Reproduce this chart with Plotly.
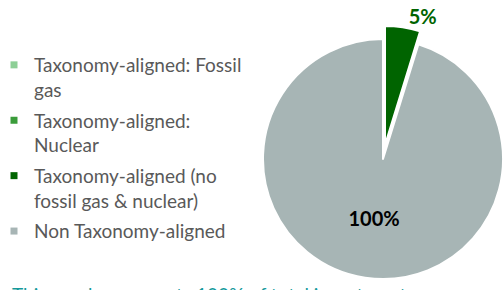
import plotly.graph_objects as go

# ---- data ----
categories = [
    "Taxonomy-aligned: Fossil gas",
    "Taxonomy-aligned: Nuclear",
    "Taxonomy-aligned (no fossil gas & nuclear)",
    "Non Taxonomy-aligned",
]
legend_names = [
    "Taxonomy-aligned: Fossil<br>gas",
    "Taxonomy-aligned:<br>Nuclear",
    "Taxonomy-aligned (no<br>fossil gas & nuclear)",
    "Non Taxonomy-aligned",
]
values = [0, 0, 5, 100]
value_labels = ["", "", "5%", "100%"]
colors = ["#8dcf96", "#3a9c3a", "#006400", "#a7b5b5"]
footnote = "This graph represents 100% of total investments."

W, H = 504, 290
FONT = "Lato, Carlito, Calibri, sans-serif"
TRANSPARENT = "rgba(0,0,0,0)"


def px_x(a, b):
    return [max(a / W, 0.0), min(b / W, 1.0)]


def px_y(top, bottom):
    return [max((H - bottom) / H, 0.0), min((H - top) / H, 1.0)]


fig = go.Figure()

# main (non-aligned) part of the pie
fig.add_trace(go.Pie(
    labels=categories, values=values, sort=False, direction="clockwise", rotation=0,
    marker=dict(colors=[c if i == 3 else TRANSPARENT for i, c in enumerate(colors)],
                line=dict(color="white", width=[0, 0, 0, 2])),
    text=[t if i == 3 else "" for i, t in enumerate(value_labels)],
    textinfo="text", textposition="inside", insidetextorientation="horizontal",
    textfont=dict(family=FONT, size=20, color="#000000", weight="bold"),
    showlegend=False, hoverinfo="skip",
    domain=dict(x=px_x(263, 503), y=px_y(39, 279)),
))

# exploded aligned slice
fig.add_trace(go.Pie(
    labels=categories, values=values, sort=False, direction="clockwise", rotation=0,
    marker=dict(colors=[c if i == 2 else TRANSPARENT for i, c in enumerate(colors)],
                line=dict(color="white", width=[0, 0, 2, 0])),
    text=[t if i == 2 else "" for i, t in enumerate(value_labels)],
    textinfo="text", textposition="outside",
    textfont=dict(family=FONT, size=20, color="#006400", weight="bold"),
    showlegend=False, hoverinfo="skip",
    domain=dict(x=px_x(266, 504), y=px_y(26, 264)),
))

# legend entries
for i, (name, col) in enumerate(zip(legend_names, colors)):
    fig.add_trace(go.Scatter(
        x=[None], y=[None], mode="markers", name=name,
        marker=dict(symbol="square", size=7, color=col),
        legendgroup=f"g{i}", showlegend=True, hoverinfo="skip",
    ))

fig.add_annotation(
    text=footnote, xref="paper", yref="paper", x=10 / W, y=(H - 281) / H,
    xanchor="left", yanchor="top", showarrow=False,
    font=dict(family=FONT, size=19, color="#15999b"),
)

fig.update_layout(
    width=W, height=H, margin=dict(l=0, r=0, t=0, b=0, autoexpand=False),
    paper_bgcolor="white", plot_bgcolor="rgba(0,0,0,0)",
    xaxis=dict(visible=False), yaxis=dict(visible=False),
    legend=dict(x=-6 / W, y=(H - 46) / H, xanchor="left", yanchor="top",
                font=dict(family=FONT, size=19, color="#595959"),
                valign="top", tracegroupgap=3, itemsizing="trace",
                bgcolor="rgba(0,0,0,0)"),
    showlegend=True,
)

fig.write_html(
    "out.html",
    config={"displayModeBar": False},
    post_script="document.body.style.margin='0';document.body.style.overflow='hidden';",
)
